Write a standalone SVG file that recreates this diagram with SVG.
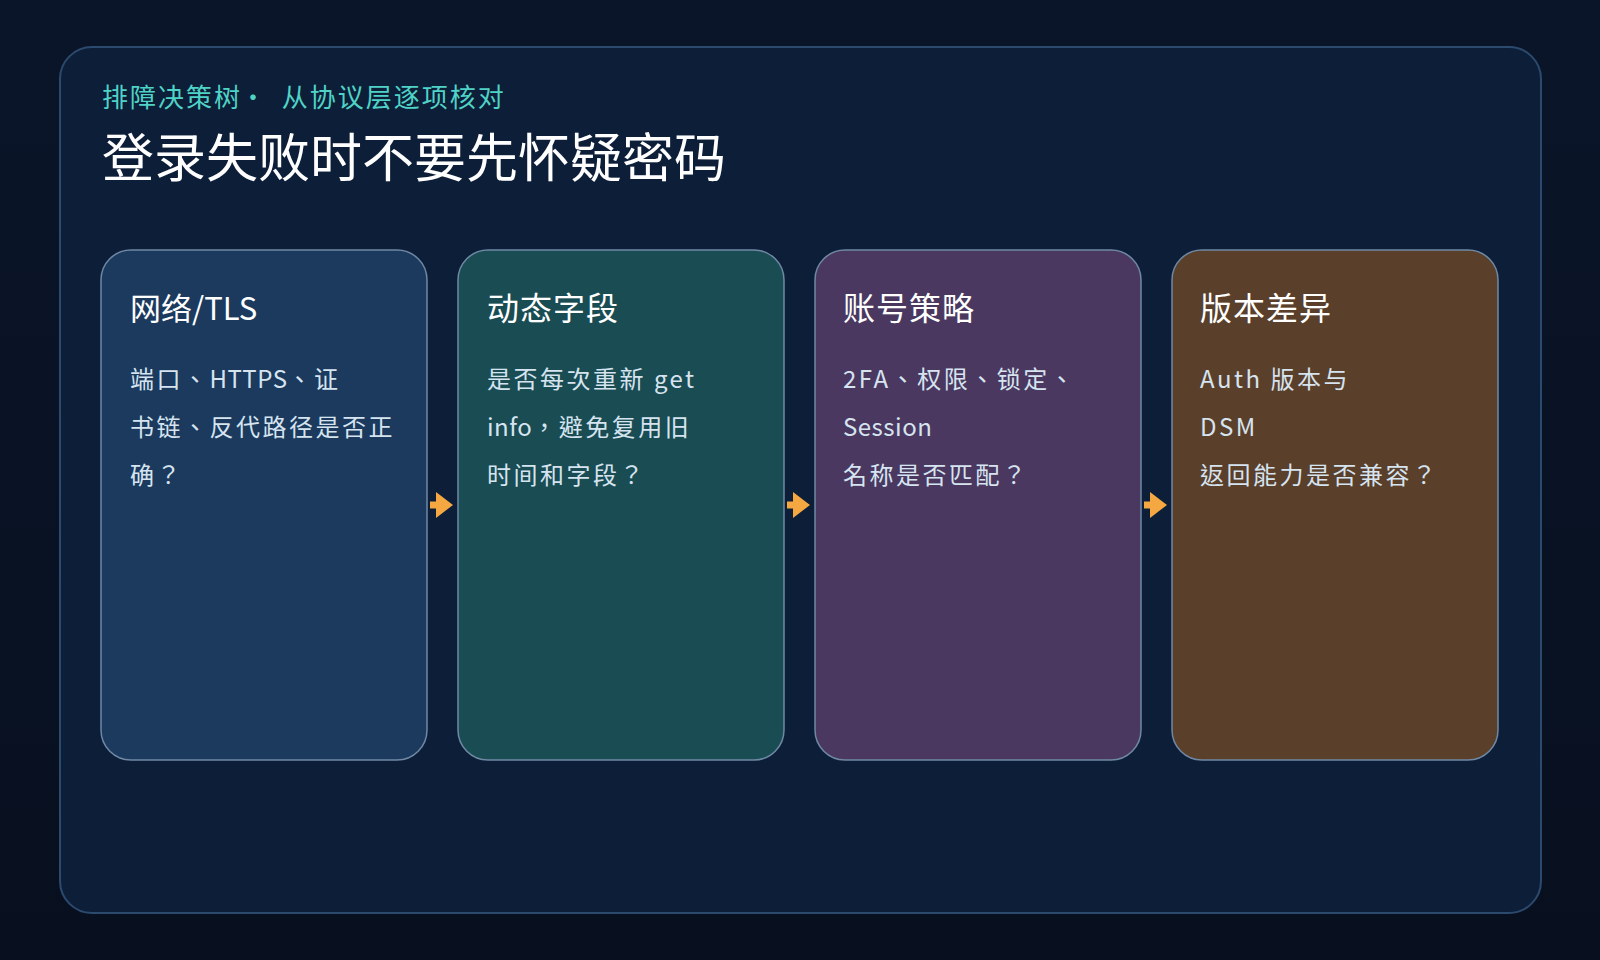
<svg xmlns="http://www.w3.org/2000/svg" width="1600" height="960" viewBox="0 0 1600 960">
  <defs>
    <linearGradient id="bg" x1="0" y1="0" x2="0" y2="1">
      <stop offset="0" stop-color="#0a1529"/>
      <stop offset="1" stop-color="#08101f"/>
    </linearGradient>
    <marker id="ah" viewBox="0 0 17 26" refX="0" refY="13" markerWidth="17" markerHeight="26" markerUnits="userSpaceOnUse" orient="auto">
      <path d="M0,0 L17,13 L0,26 Z" fill="#f5a742"/>
    </marker>
    <style>
      .cjk { font-family: "Noto Sans CJK SC", "Noto Sans", sans-serif; }
      .card { stroke: #6f89a5; stroke-width: 1.5; }
      .ctitle { font-size: 32px; fill: #ffffff; letter-spacing: 1px; }
      .ctitle.tight { font-size: 31px; letter-spacing: 0; }
      .cbody { font-family: "Noto Sans CJK TC", "Noto Sans CJK SC", sans-serif; font-size: 24px; fill: #d6e4f0; letter-spacing: 2.5px; }
      .lat { letter-spacing: 0.5px; }
      .conn { stroke: #f5a742; stroke-width: 7; fill: none; }
    </style>
  </defs>
  <rect width="1600" height="960" fill="url(#bg)"/>
  <rect x="60" y="47" width="1481" height="866" rx="32" fill="#0d1e38" stroke="#2b4a6d" stroke-width="2"/>

  <g id="header" class="cjk">
    <text x="102" y="107" font-size="26" letter-spacing="2" fill="#4fd3c6" xml:space="preserve">排障决策树<tspan dx="-2">·</tspan><tspan dx="-2">  从协议层逐项核对</tspan></text>
    <text x="102" y="177" font-size="52" fill="#ffffff">登录失败时不要先怀疑密码</text>
  </g>

  <g id="node-network" class="cjk">
    <rect class="card" x="101" y="250" width="326" height="510" rx="30" fill="#1b3a5e"/>
    <text class="ctitle tight" x="130" y="320">网络/TLS</text>
    <text class="cbody" x="130" y="388">端口、<tspan class="lat">HTTPS</tspan>、证</text>
    <text class="cbody" x="130" y="436">书链、反代路径是否正</text>
    <text class="cbody" x="130" y="484">确？</text>
  </g>

  <g id="node-dynamic" class="cjk">
    <rect class="card" x="458" y="250" width="326" height="510" rx="30" fill="#1a4c53"/>
    <text class="ctitle" x="487" y="320">动态字段</text>
    <text class="cbody" x="487" y="388">是否每次重新 get</text>
    <text class="cbody" x="487" y="436"><tspan class="lat">info</tspan>，避免复用旧</text>
    <text class="cbody" x="487" y="484">时间和字段？</text>
  </g>

  <g id="node-account" class="cjk">
    <rect class="card" x="815" y="250" width="326" height="510" rx="30" fill="#4a3860"/>
    <text class="ctitle" x="843" y="320">账号策略</text>
    <text class="cbody" x="843" y="388">2FA、权限、锁定、</text>
    <text class="cbody lat" x="843" y="436">Session</text>
    <text class="cbody" x="843" y="484">名称是否匹配？</text>
  </g>

  <g id="node-version" class="cjk">
    <rect class="card" x="1172" y="250" width="326" height="510" rx="30" fill="#5a3f2b"/>
    <text class="ctitle" x="1200" y="320">版本差异</text>
    <text class="cbody" x="1200" y="388">Auth 版本与</text>
    <text class="cbody" x="1200" y="436">DSM</text>
    <text class="cbody" x="1200" y="484">返回能力是否兼容？</text>
  </g>

  <g id="connectors">
    <line class="conn" x1="430" y1="505" x2="436" y2="505" marker-end="url(#ah)"/>
    <line class="conn" x1="787" y1="505" x2="793" y2="505" marker-end="url(#ah)"/>
    <line class="conn" x1="1144" y1="505" x2="1150" y2="505" marker-end="url(#ah)"/>
  </g>
</svg>
